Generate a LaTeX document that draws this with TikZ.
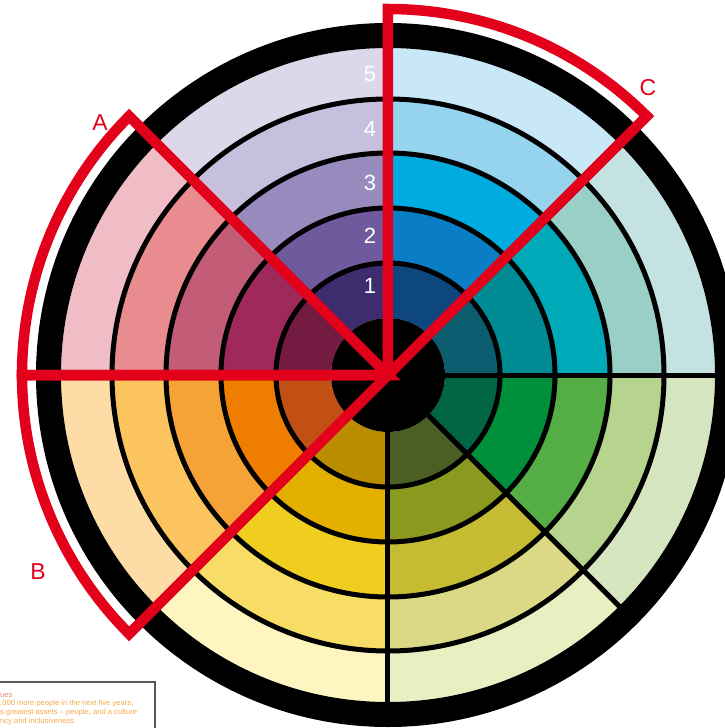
\documentclass[tikz,border=0pt]{standalone}
\usepackage{fontspec}
\setmainfont{Liberation Sans}

% ---- ring colours, inner (1) to outer (5) ----
\definecolor{teal1}{HTML}{0B5C6E}
\definecolor{teal2}{HTML}{008A93}
\definecolor{teal3}{HTML}{00A9B8}
\definecolor{teal4}{HTML}{9ACFC8}
\definecolor{teal5}{HTML}{C4E2E1}
\definecolor{blue1}{HTML}{0E467E}
\definecolor{blue2}{HTML}{0A7EC4}
\definecolor{blue3}{HTML}{00ABE0}
\definecolor{blue4}{HTML}{96D3EC}
\definecolor{blue5}{HTML}{C9E8F7}
\definecolor{purple1}{HTML}{3D2D6E}
\definecolor{purple2}{HTML}{6E5A9C}
\definecolor{purple3}{HTML}{988CBE}
\definecolor{purple4}{HTML}{C6C0DE}
\definecolor{purple5}{HTML}{DCD8EA}
\definecolor{rose1}{HTML}{731B40}
\definecolor{rose2}{HTML}{A0295B}
\definecolor{rose3}{HTML}{C35C77}
\definecolor{rose4}{HTML}{E88C90}
\definecolor{rose5}{HTML}{F0BCC6}
\definecolor{orange1}{HTML}{C24F13}
\definecolor{orange2}{HTML}{EE7D00}
\definecolor{orange3}{HTML}{F5A236}
\definecolor{orange4}{HTML}{FCC45F}
\definecolor{orange5}{HTML}{FEDCA6}
\definecolor{yellow1}{HTML}{BA8C00}
\definecolor{yellow2}{HTML}{E3B000}
\definecolor{yellow3}{HTML}{F0CE1F}
\definecolor{yellow4}{HTML}{F7DC65}
\definecolor{yellow5}{HTML}{FEF5C1}
\definecolor{olive1}{HTML}{4B5E23}
\definecolor{olive2}{HTML}{8A9A1E}
\definecolor{olive3}{HTML}{C6BC33}
\definecolor{olive4}{HTML}{DBD985}
\definecolor{olive5}{HTML}{E9EFC0}
\definecolor{green1}{HTML}{006643}
\definecolor{green2}{HTML}{00903B}
\definecolor{green3}{HTML}{54AD45}
\definecolor{green4}{HTML}{B7D48F}
\definecolor{green5}{HTML}{D5E5BF}
\definecolor{markred}{HTML}{E2001A}
\definecolor{notetext}{HTML}{F7A845}
\definecolor{notehead}{HTML}{E0906A}

\tikzset{
  sep/.style={black, line width=5},
  marker/.style={markred, line width=10.5, line join=miter},
  ringnum/.style={white, font=\fontsize{22}{22}\selectfont},
  sectorlbl/.style={markred, font=\fontsize{23}{23}\selectfont},
  noteline/.style={notetext, anchor=base west, inner sep=0, font=\fontsize{7.6}{8}\selectfont}
}

\begin{document}
\begin{tikzpicture}[x=1pt, y=1pt]
  \useasboundingbox (-388,-353) rectangle (336,375);

  % ---- coloured sectors ----
  \foreach \s/\a in {teal/0, blue/45, purple/90, rose/135, orange/180, yellow/225, olive/270, green/315} {
    \foreach \j/\ri/\ro in {1/57/112, 2/112/167, 3/167/222, 4/222/276, 5/276/327} {
      \fill[\s\j] (\a:\ri) arc[start angle=\a, delta angle=45, radius=\ri]
        -- ({\a+45}:\ro) arc[start angle=\a+45, delta angle=-45, radius=\ro] -- cycle;
    }
  }

  % ---- black ring lines and spokes ----
  \foreach \r in {112, 167, 222, 276} {
    \draw[sep] (0,0) circle[radius=\r];
  }
  \foreach \a in {0, 45, ..., 315} {
    \draw[sep] (\a:57) -- (\a:328);
  }
  \draw[black, line width=25] (0,0) circle[radius=339.5];
  \fill[black] (0,0) circle[radius=57];

  % ---- ring numbers ----
  \foreach \n/\y in {1/89, 2/139, 3/192, 4/246, 5/301} {
    \node[ringnum] (num\n) at (-18,\y) {\n};
  }

  % ---- red marked sectors ----
  \coordinate (hub) at (0,0);
  \draw[marker] (hub) -- (135:366) arc[start angle=135, end angle=180, radius=366] -- cycle;
  \draw[marker] (hub) -- (180:366) arc[start angle=180, end angle=225, radius=366] -- cycle;
  \draw[marker] (hub) -- (90:366) arc[start angle=90, end angle=45, radius=366] -- cycle;
  \node[sectorlbl] (lblA) at (-288,252) {A};
  \node[sectorlbl] (lblB) at (-350,-197) {B};
  \node[sectorlbl] (lblC) at (260,287) {C};

  % ---- note box, cut at the page edge ----
  \draw[gray!70!black, line width=1.8] (-400,-400) rectangle (-233,-307);
  \node[noteline, notehead] (note0) at (-388,-322) {ues};
  \node[noteline] (note1) at (-388,-330) {,000 more people in the next five years,};
  \node[noteline] (note2) at (-388,-339) {s greatest assets – people, and a culture};
  \node[noteline] (note3) at (-388,-348) {ncy and inclusiveness};

\end{tikzpicture}
\end{document}
